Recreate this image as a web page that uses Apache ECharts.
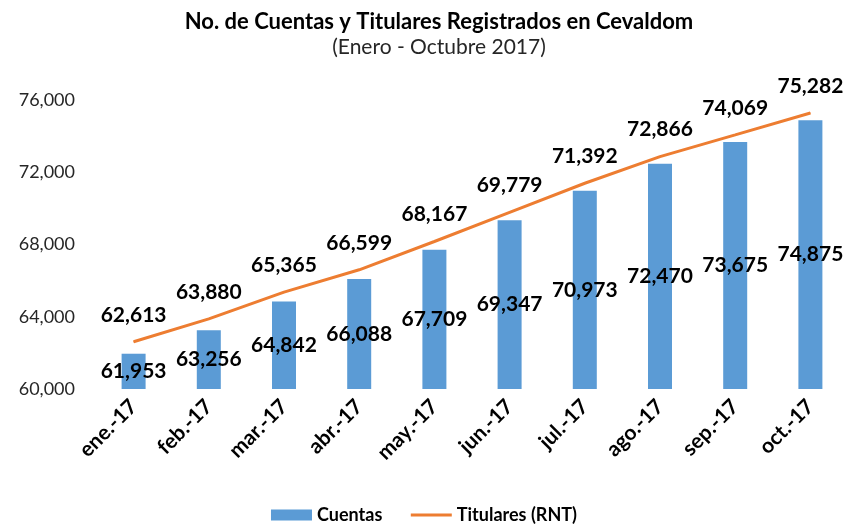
<!DOCTYPE html>
<html>
<head>
<meta charset="utf-8">
<script src="https://cdn.jsdelivr.net/npm/echarts@6/dist/echarts.min.js"></script>
<style>html,body{margin:0;padding:0;background:#fff}#c{width:848px;height:530px}</style>
</head>
<body>
<div id="c"></div>
<script>
const categories = ['ene.-17','feb.-17','mar.-17','abr.-17','may.-17','jun.-17','jul.-17','ago.-17','sep.-17','oct.-17'];
const cuentas = [61953,63256,64842,66088,67709,69347,70973,72470,73675,74875];
const titulares = [62613,63880,65365,66599,68167,69779,71392,72866,74069,75282];
const yTicks = {min: 60000, max: 76000, interval: 4000};

const fmt = v => Number(v).toLocaleString('en-US');
const FONT = 'Lato';

const chart = echarts.init(document.getElementById('c'));
chart.setOption({
  animation: false,
  backgroundColor: '#fff',
  title: {
    text: 'No. de Cuentas y Titulares Registrados en Cevaldom',
    subtext: '(Enero - Octubre 2017)',
    left: 434, top: 6, textAlign: 'center', itemGap: 4,
    textStyle: {fontFamily: FONT, fontWeight: 'bold', fontSize: 22, color: '#000'},
    subtextStyle: {fontFamily: FONT, fontSize: 21, color: '#262626'}
  },
  legend: {
    bottom: 1, left: 'center', itemWidth: 41, itemHeight: 11, itemGap: 27,
    textStyle: {fontFamily: FONT, fontWeight: 'bold', fontSize: 18, color: '#000'},
    data: [
      {name: 'Cuentas', icon: 'rect'},
      {name: 'Titulares (RNT)', itemStyle: {opacity: 0}, lineStyle: {width: 3, color: '#ED7D31'}}
    ]
  },
  grid: {left: 96, right: 0, top: 100, bottom: 141},
  xAxis: {
    type: 'category', data: categories,
    axisLine: {show: false}, axisTick: {show: false},
    axisLabel: {rotate: 45, margin: 14, fontFamily: FONT, fontWeight: 'bold', fontSize: 21, color: '#000'}
  },
  yAxis: {
    type: 'value', min: yTicks.min, max: yTicks.max, interval: yTicks.interval,
    splitLine: {show: false}, axisLine: {show: false}, axisTick: {show: false},
    axisLabel: {margin: 21, fontFamily: FONT, fontSize: 18, color: '#262626', formatter: fmt}
  },
  series: [
    {
      name: 'Cuentas', type: 'bar', data: cuentas, barWidth: 24,
      itemStyle: {color: '#5B9BD5'},
      label: {show: true, position: 'inside', fontFamily: FONT, fontWeight: 'bold', fontSize: 21, color: '#000',
        formatter: p => fmt(p.value)}
    },
    {
      name: 'Titulares (RNT)', type: 'line', data: titulares, symbol: 'circle', symbolSize: 1, showSymbol: true,
      lineStyle: {color: '#ED7D31', width: 3}, itemStyle: {color: '#ED7D31'},
      label: {show: true, position: 'top', distance: 16, fontFamily: FONT, fontWeight: 'bold', fontSize: 21, color: '#000',
        formatter: p => fmt(p.value)}
    }
  ]
});
</script>
</body>
</html>
